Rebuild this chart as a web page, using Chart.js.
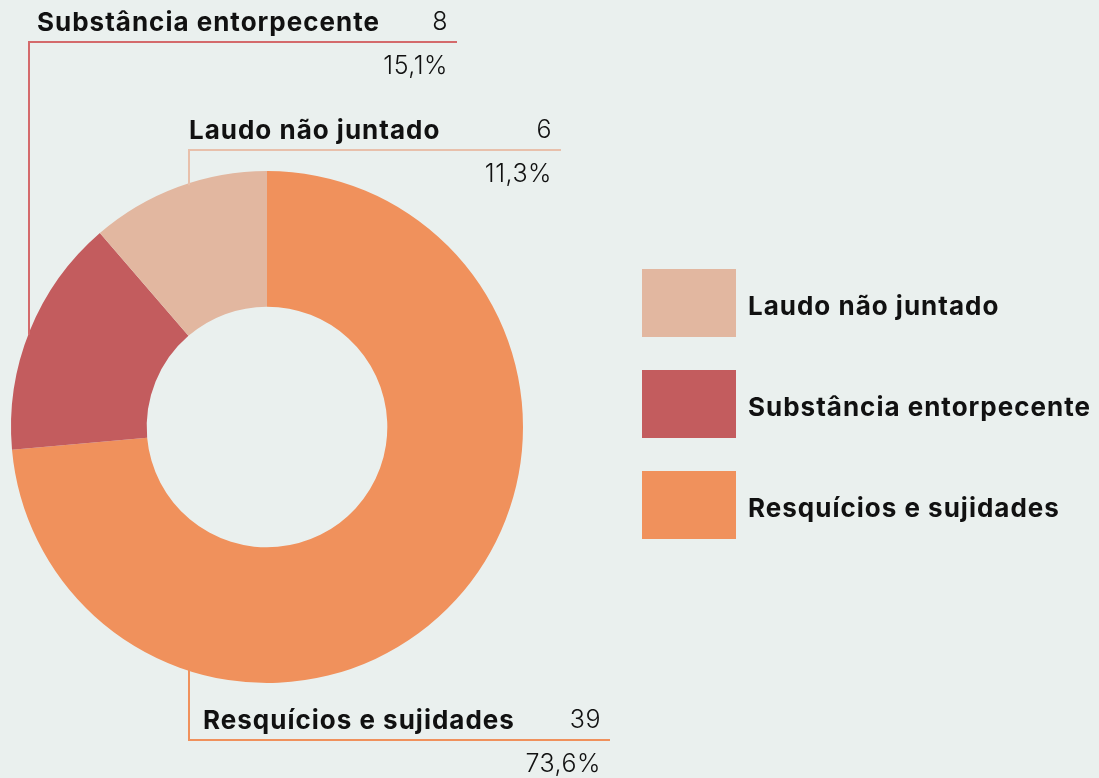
<!DOCTYPE html>
<html>
<head>
<meta charset="utf-8">
<script src="https://cdn.jsdelivr.net/npm/chart.js@4.4.1/dist/chart.umd.min.js"></script>
<style>
  html, body { margin: 0; padding: 0; background: #eaf0ee; }
  #wrap { width: 1099px; height: 778px; position: relative; }
</style>
</head>
<body>
<div id="wrap"><canvas id="donut" width="1099" height="778"></canvas></div>
<script>
// --- data ---
const categories = ["Resquícios e sujidades", "Substância entorpecente", "Laudo não juntado"];
const counts = [39, 8, 6];
const percentLabels = ["73,6%", "15,1%", "11,3%"];
const sliceColors = ["#f0915c", "#c35c5e", "#e2b7a0"];
const lineColors = ["#f0915c", "#d46a6b", "#e8c0ab"];

const FONT = "Inter, 'Open Sans', sans-serif";

// callout placement per slice (line x, horizontal line y, right end, label x)
const callouts = [
  { lineX: 189, lineY: 740, endX: 610, labelX: 203, down: true },
  { lineX: 29, lineY: 42, endX: 457, labelX: 37, down: false },
  { lineX: 189, lineY: 150, endX: 561, labelX: 189, down: false },
];

function boldFont(ctx) {
  ctx.font = "700 26px " + FONT;
  ctx.letterSpacing = "1px";
}
function lightFont(ctx) {
  ctx.font = "300 25px " + FONT;
  ctx.letterSpacing = "0.5px";
}

// draws the leader lines + labels
const calloutPlugin = {
  id: "callouts",
  afterDatasetsDraw(chart) {
    const ctx = chart.ctx;
    const arc = chart.getDatasetMeta(0).data[0];
    const cx = arc.x, cy = arc.y, r = arc.outerRadius;
    ctx.save();
    callouts.forEach((c, i) => {
      const dx = c.lineX - cx;
      const dy = Math.sqrt(Math.max(r * r - dx * dx, 0));
      const startY = c.down ? cy + dy - 2 : cy - dy + 2;
      ctx.strokeStyle = lineColors[i];
      ctx.lineWidth = 2;
      ctx.beginPath();
      ctx.moveTo(c.lineX, startY);
      ctx.lineTo(c.lineX, c.lineY);
      ctx.lineTo(c.endX, c.lineY);
      ctx.stroke();

      const rightX = c.endX - 9;
      ctx.fillStyle = "#111";
      ctx.textBaseline = "middle";
      ctx.textAlign = "left";
      boldFont(ctx);
      ctx.fillText(categories[i], c.labelX, c.lineY - 19);
      ctx.textAlign = "right";
      lightFont(ctx);
      ctx.fillText(String(counts[i]), rightX, c.lineY - 20);
      ctx.fillText(percentLabels[i], rightX, c.lineY + 24);
    });
    ctx.restore();
  },
};

// legend on the right, reversed order
const legendPlugin = {
  id: "sideLegend",
  afterDraw(chart) {
    const ctx = chart.ctx;
    ctx.save();
    const order = [2, 1, 0];
    order.forEach((idx, k) => {
      const y = 269 + k * 101;
      ctx.fillStyle = sliceColors[idx];
      ctx.fillRect(642, y, 94, 68);
      ctx.fillStyle = "#111";
      boldFont(ctx);
      ctx.textAlign = "left";
      ctx.textBaseline = "middle";
      ctx.fillText(categories[idx], 748, y + 38);
    });
    ctx.restore();
  },
};

new Chart(document.getElementById("donut"), {
  type: "doughnut",
  data: {
    labels: categories,
    datasets: [
      {
        data: counts,
        backgroundColor: sliceColors,
        borderWidth: 0,
      },
    ],
  },
  options: {
    responsive: false,
    animation: false,
    cutout: "47%",
    layout: { padding: { left: 11, top: 171, right: 576, bottom: 95 } },
    plugins: {
      legend: { display: false },
      tooltip: { enabled: false },
    },
  },
  plugins: [calloutPlugin, legendPlugin],
});
</script>
</body>
</html>
